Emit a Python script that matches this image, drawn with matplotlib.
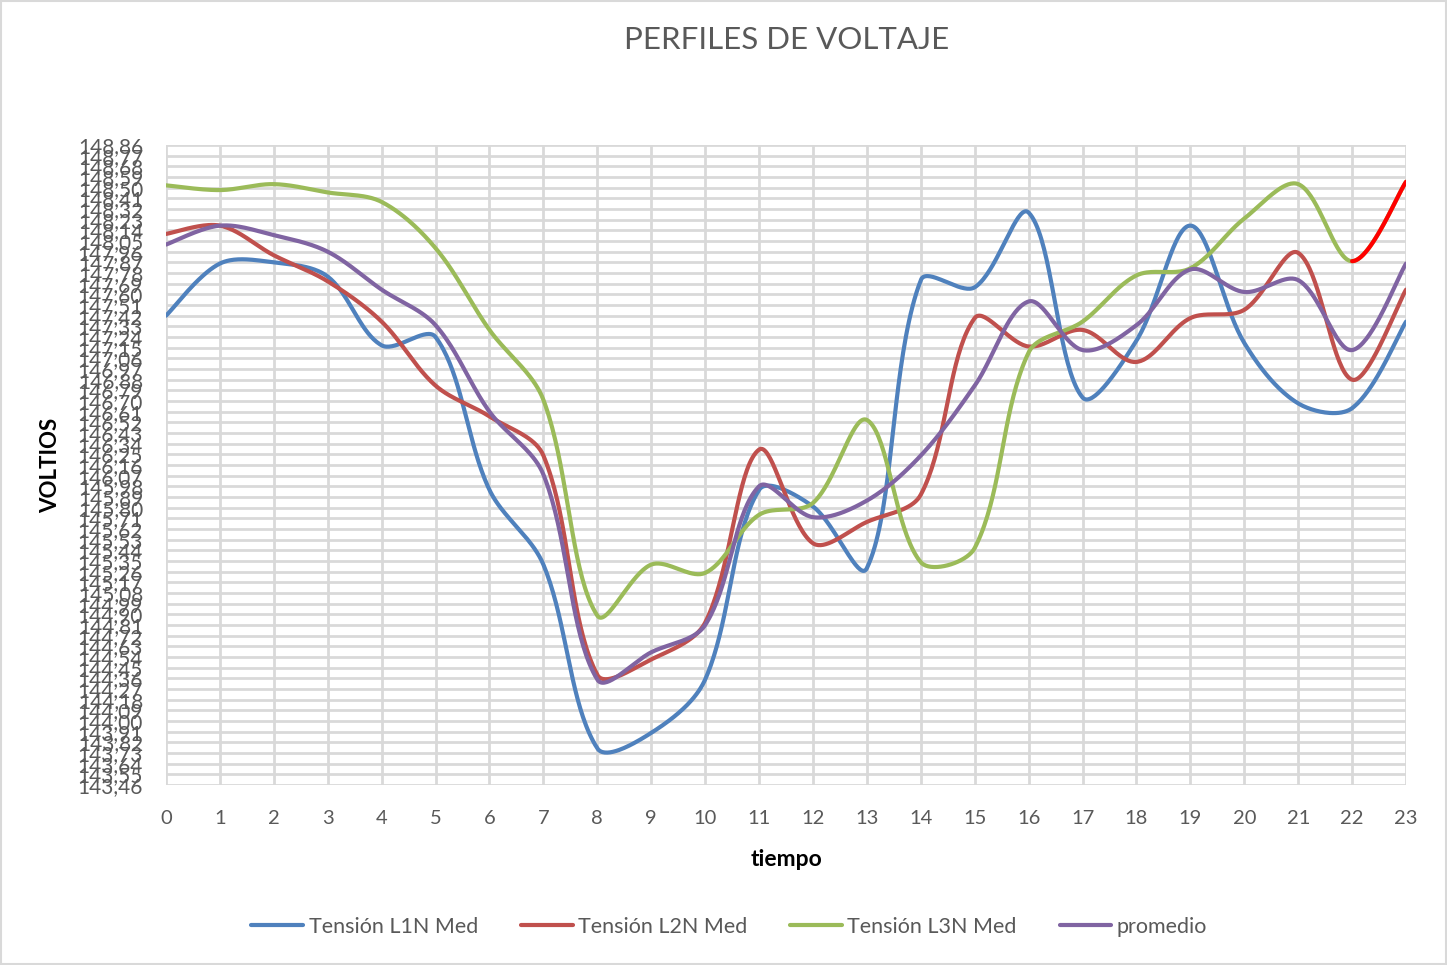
import numpy as np
import matplotlib
matplotlib.use("Agg")
import matplotlib.pyplot as plt
from matplotlib.patches import Rectangle

plt.rcParams["font.family"] = ["Lato", "DejaVu Sans"]

# donnees (volts par heure)
horas = list(range(24))
l1n = [147.42, 147.86, 147.87, 147.75, 147.17, 147.24, 145.95, 145.32, 143.77, 143.90,
       144.35, 145.95, 145.81, 145.29, 147.72, 147.66, 148.29, 146.73, 147.21, 148.18,
       147.19, 146.68, 146.64, 147.37]
l2n = [148.11, 148.18, 147.93, 147.71, 147.37, 146.83, 146.57, 146.24, 144.39, 144.52,
       144.83, 146.29, 145.50, 145.68, 145.91, 147.40, 147.16, 147.30, 147.03, 147.40,
       147.47, 147.95, 146.88, 147.64]
l3n = [148.52, 148.48, 148.53, 148.46, 148.38, 147.99, 147.30, 146.71, 144.89, 145.32,
       145.25, 145.74, 145.84, 146.54, 145.34, 145.46, 147.11, 147.37, 147.76, 147.82,
       148.24, 148.53, 147.88, 148.55]
promedio = [148.02, 148.18, 148.10, 147.96, 147.64, 147.34, 146.61, 146.08, 144.35, 144.58,
            144.81, 145.98, 145.72, 145.86, 146.24, 146.83, 147.54, 147.13, 147.34, 147.81,
            147.62, 147.72, 147.13, 147.86]

series = [("Tensión L1N Med", l1n, "#4f81bd"),
          ("Tensión L2N Med", l2n, "#c0504d"),
          ("Tensión L3N Med", l3n, "#9bbb59"),
          ("promedio", promedio, "#8064a2")]

y_min, y_step, n_ticks = 143.46, 0.09, 61

# echelle approx en pixels (pour le lissage, comme excel)
SX, SY = 1240 / 23, 640 / 5.4


def lissage(x, y, n=40):
    # bezier avec bras ponderes par la longueur des cordes
    p = np.column_stack([np.asarray(x, float) * SX, np.asarray(y, float) * SY])
    out = []
    for i in range(len(p) - 1):
        a = p[max(i - 1, 0)]
        b = p[i]
        c = p[i + 1]
        d = p[min(i + 2, len(p) - 1)]
        d_ab = np.linalg.norm(b - a)
        d_bc = np.linalg.norm(c - b)
        d_cd = np.linalg.norm(d - c)
        f1 = d_bc / (3 * (d_ab + d_bc)) if d_ab > 0 else 1 / 6
        f2 = d_bc / (3 * (d_bc + d_cd)) if d_cd > 0 else 1 / 6
        p1 = b + (c - a) * f1
        p2 = c - (d - b) * f2
        t = np.linspace(0, 1, n)[:, None]
        pts = (1 - t) ** 3 * b + 3 * (1 - t) ** 2 * t * p1 + 3 * (1 - t) * t ** 2 * p2 + t ** 3 * c
        out.append(pts)
    pts = np.concatenate(out)
    return pts[:, 0] / SX, pts[:, 1] / SY


fig = plt.figure(figsize=(14.47, 9.65), dpi=100)
ax = fig.add_axes([0.1147, 0.1865, 0.857, 0.6632])

for nom, vals, col in series:
    xs, ys = lissage(horas, vals)
    ax.plot(xs, ys, color=col, lw=3, label=nom, solid_capstyle="round")
    if nom == "Tensión L3N Med":
        m = xs >= 22
        ax.plot(xs[m], ys[m], color="#ff0000", lw=3, solid_capstyle="round")

yticks = [y_min + k * y_step for k in range(n_ticks)]
ax.set_yticks(yticks)
ax.set_yticklabels([f"{v:.2f}".replace(".", ",") for v in yticks])
ax.set_ylim(yticks[0], yticks[-1])
ax.set_xticks(horas)
ax.set_xlim(0, 23)

ax.grid(True, color="#d9d9d9", lw=2)
ax.set_axisbelow(True)
for s in ax.spines.values():
    s.set_visible(False)
ax.tick_params(length=0, colors="#595959")
ax.tick_params(axis="y", labelsize=15, pad=16.5)
ax.tick_params(axis="x", labelsize=14.5, pad=18)

ax.set_ylabel("VOLTIOS", fontsize=16, fontweight="bold", labelpad=12)
ax.set_xlabel("tiempo", fontsize=16.5, fontweight="bold", labelpad=16)
fig.text(0.5435, 0.9585, "PERFILES DE VOLTAJE", ha="center", va="center",
         fontsize=22.5, color="#595959")

fig.legend(loc="center", bbox_to_anchor=(0.504, 0.0394), ncol=4, frameon=False,
           fontsize=15.5, handlelength=2.4, handletextpad=0.25, columnspacing=2.0,
           labelcolor="#595959")

fig.patches.append(Rectangle((0.001, 0.001), 0.998, 0.998, transform=fig.transFigure,
                             fill=False, edgecolor="#d9d9d9", lw=1.5))

fig.savefig("out.png", dpi=100)
